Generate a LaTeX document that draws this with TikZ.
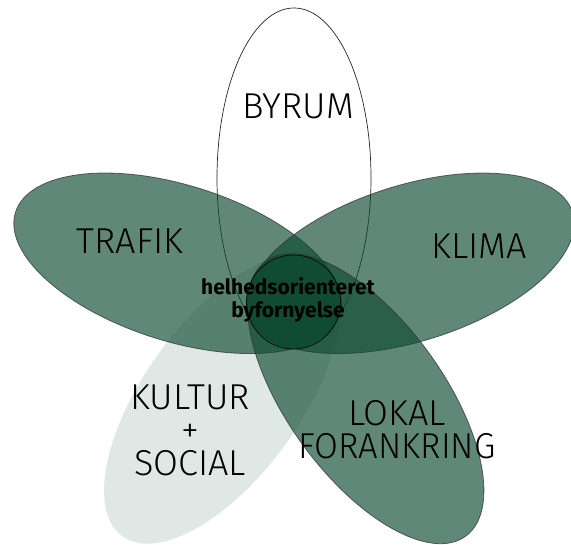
\documentclass[tikz,border=0pt]{standalone}
\usepackage{fontspec}
\setmainfont{Fira Sans}[UprightFont=* Light, BoldFont=* Bold]
\definecolor{flowergreen}{HTML}{0E4A33}
\begin{document}
\begin{tikzpicture}[x=1pt,y=1pt]
\useasboundingbox (0,0) rectangle (571,545);
\tikzset{
  petal/.style={fill=flowergreen, fill opacity=0.66, draw=black!80, draw opacity=0.75, line width=0.8pt},
  palepetal/.style={fill=flowergreen, fill opacity=0.13, draw=none},
  whitepetal/.style={fill=white, draw=black!85, line width=0.7pt},
  corecircle/.style={fill=flowergreen, fill opacity=0.66, draw=black, draw opacity=0.8, line width=0.8pt},
  lbl/.style={font=\fontsize{36}{33}\selectfont, text=black, inner sep=0pt, align=center},
  corelbl/.style={font=\bfseries\fontsize{21}{23}\selectfont, text=black, inner sep=0pt, align=center}
}
\coordinate (P) at (294,245);
% BYRUM (top)
\begin{scope}[shift={(P)}, rotate=90]
  \path[whitepetal] (122,0) ellipse [x radius=170, y radius=77];
\end{scope}
% KULTUR + SOCIAL (lower left)
\begin{scope}[shift={(P)}, rotate=234]
  \path[palepetal] (122,0) ellipse [x radius=170, y radius=78];
\end{scope}
% TRAFIK (left)
\begin{scope}[shift={(P)}, rotate=162.5]
  \path[petal] (122,0) ellipse [x radius=170, y radius=78];
\end{scope}
% KLIMA (right)
\begin{scope}[shift={(P)}, rotate=17.5]
  \path[petal] (122,0) ellipse [x radius=170, y radius=78];
\end{scope}
% LOKAL FORANKRING (lower right)
\begin{scope}[shift={(P)}, rotate=306]
  \path[petal] (122,0) ellipse [x radius=170, y radius=78];
\end{scope}
% core
\path[corecircle] (293.5,243) circle (47);

\node[lbl] (byrum) at (298,439) {BYRUM};
\node[lbl] (trafik) at (130,304) {TRAFIK};
\node[lbl] (klima) at (479,299) {KLIMA};
\node[lbl] (kultur) at (190,115) {KULTUR\\+\\SOCIAL};
\node[lbl] (lokal) at (397,115) {LOKAL\\\scalebox{0.96}[1]{FORANKRING}};
\node[corelbl] (core) at (288,245) {helhedsorienteret\\byfornyelse};
\end{tikzpicture}
\end{document}
